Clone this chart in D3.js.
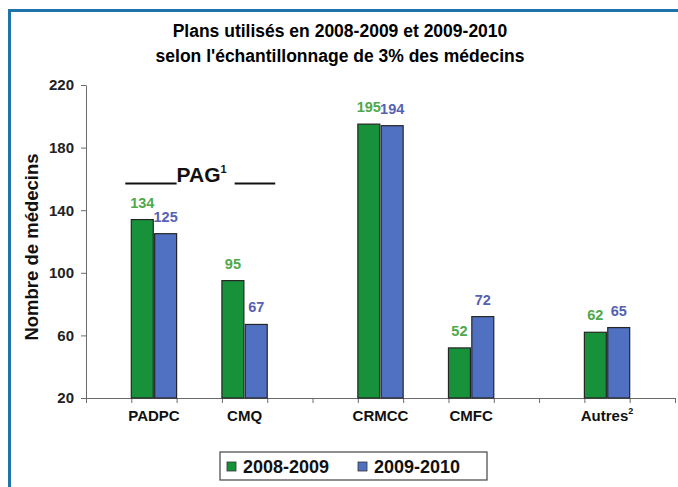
<!DOCTYPE html>
<html>
<head>
<meta charset="utf-8">
<script src="https://cdn.jsdelivr.net/npm/d3@7"></script>
<style>
  body { margin: 0; background: #fff; }
  svg { display: block; font-family: "Liberation Sans", Arial, sans-serif; font-weight: bold; }
</style>
</head>
<body>
<div id="chart"></div>
<script>
var categories = ["PADPC", "CMQ", "CRMCC", "CMFC", "Autres"];
var catSup = ["", "", "", "", "2"];
var series = ["2008-2009", "2009-2010"];
var values2008 = [134, 95, 195, 52, 62];
var values2009 = [125, 67, 194, 72, 65];
var yTicks = [20, 60, 100, 140, 180, 220];
// empty slots keep the gaps between the groups
var slotOrder = [null, "PADPC", null, "CMQ", null, null, "CRMCC", null, "CMFC", null, null, "Autres", null];

var W = 678, H = 487;
var barFill = ["#17923b", "#5070c2"];
var labelFill = ["#4fa84a", "#5561b3"];

var svg = d3.select("#chart").append("svg")
    .attr("width", W)
    .attr("height", H);

// blue frame
svg.append("path")
    .attr("d", "M9.5," + H + " L9.5,10.5 L" + W + ",10.5")
    .attr("fill", "none")
    .attr("stroke", "#1f73ab")
    .attr("stroke-width", 3);

// title
svg.append("text")
    .attr("x", 340).attr("y", 37)
    .attr("text-anchor", "middle")
    .style("font-size", "17.5px")
    .text("Plans utilisés en 2008-2009 et 2009-2010");
svg.append("text")
    .attr("x", 340).attr("y", 62)
    .attr("text-anchor", "middle")
    .style("font-size", "17.5px")
    .text("selon l'échantillonnage de 3% des médecins");

var y = d3.scaleLinear().domain([20, 220]).range([398, 85]);
var slotX = d3.scaleLinear().domain([0, slotOrder.length]).range([86, 675]);
var slotW = slotX(1) - slotX(0);
var xSub = d3.scaleBand().domain(series).range([0, slotW]).paddingInner(0.06);

function catX(c) { return slotX(slotOrder.indexOf(c)); }

// y axis
var yAxis = svg.append("g")
    .attr("transform", "translate(86,0)")
    .call(d3.axisLeft(y).tickValues(yTicks).tickSize(5).tickSizeOuter(0).tickPadding(7));
yAxis.select(".domain").attr("stroke", "#6b6b6b");
yAxis.selectAll(".tick line").attr("stroke", "#6b6b6b");
yAxis.selectAll("text")
    .style("font-size", "15px")
    .style("font-family", "Liberation Sans, Arial, sans-serif")
    .style("font-weight", "bold")
    .attr("fill", "#222");

// x axis (ticks at slot boundaries, no labels)
var xAxis = svg.append("g")
    .attr("transform", "translate(0,398)")
    .call(d3.axisBottom(slotX).tickValues(d3.range(0, slotOrder.length + 1)).tickFormat("").tickSize(5).tickSizeOuter(0));
xAxis.select(".domain").attr("stroke", "#6b6b6b");
xAxis.selectAll(".tick line").attr("stroke", "#6b6b6b");

// y title
svg.append("text")
    .attr("transform", "translate(38,247) rotate(-90)")
    .attr("text-anchor", "middle")
    .style("font-size", "18.5px")
    .attr("fill", "#111")
    .text("Nombre de médecins");

var data = categories.map(function(c, i) {
    return { cat: c, vals: [values2008[i], values2009[i]] };
});

var groups = svg.selectAll(".grp")
    .data(data)
    .enter().append("g")
    .attr("class", "grp")
    .attr("transform", function(d) { return "translate(" + catX(d.cat) + ",0)"; });

groups.selectAll("rect")
    .data(function(d) { return d.vals.map(function(v, k) { return { s: series[k], v: v, k: k }; }); })
    .enter().append("rect")
    .attr("x", function(d) { return xSub(d.s); })
    .attr("y", function(d) { return y(d.v); })
    .attr("width", xSub.bandwidth())
    .attr("height", function(d) { return y(20) - y(d.v); })
    .attr("fill", function(d) { return barFill[d.k]; })
    .attr("stroke", "#252525")
    .attr("stroke-width", 1.2);

groups.selectAll(".val")
    .data(function(d) { return d.vals.map(function(v, k) { return { s: series[k], v: v, k: k }; }); })
    .enter().append("text")
    .attr("class", "val")
    .attr("x", function(d) { return xSub(d.s) + xSub.bandwidth() / 2; })
    .attr("y", function(d) { return y(d.v) - 12; })
    .attr("text-anchor", "middle")
    .style("font-size", "14.5px")
    .attr("fill", function(d) { return labelFill[d.k]; })
    .text(function(d) { return d.v; });

// category labels
var catLab = groups.append("text")
    .attr("x", slotW / 2)
    .attr("y", 421)
    .attr("text-anchor", "middle")
    .style("font-size", "15px")
    .attr("fill", "#111");
catLab.append("tspan").text(function(d) { return d.cat; });
catLab.filter(function(d, i) { return catSup[i]; })
    .append("tspan")
    .attr("dy", -7)
    .style("font-size", "9px")
    .text(function(d) { return catSup[categories.indexOf(d.cat)]; });

// PAG bracket over PADPC and CMQ
var pagX0 = catX("PADPC"), pagX1 = catX("CMQ") + slotW;
var pagText = svg.append("text")
    .attr("x", pagX0 + slotW)
    .attr("y", 182)
    .style("font-size", "21px")
    .attr("fill", "#111");
pagText.append("tspan").text("PAG");
pagText.append("tspan").attr("dy", -9).style("font-size", "11px").text("1");
svg.append("line")
    .attr("x1", pagX0 - 6).attr("x2", pagX0 + slotW)
    .attr("y1", 183.5).attr("y2", 183.5)
    .attr("stroke", "#111").attr("stroke-width", 2);
svg.append("line")
    .attr("x1", pagX0 + slotW + 58).attr("x2", pagX1 + 8)
    .attr("y1", 183.5).attr("y2", 183.5)
    .attr("stroke", "#111").attr("stroke-width", 2);

// legend
var lg = svg.append("g").attr("transform", "translate(220,452)");
lg.append("rect")
    .attr("width", 267).attr("height", 28)
    .attr("fill", "#fff")
    .attr("stroke", "#444").attr("stroke-width", 1.2);
var lgX = d3.scalePoint().domain(series).range([7, 138]);
var items = lg.selectAll(".item").data(series).enter().append("g")
    .attr("transform", function(d) { return "translate(" + lgX(d) + ",0)"; });
items.append("rect")
    .attr("y", 10).attr("width", 9).attr("height", 9)
    .attr("fill", function(d, i) { return barFill[i]; })
    .attr("stroke", "#333").attr("stroke-width", 0.8);
items.append("text")
    .attr("x", 16).attr("y", 21)
    .style("font-size", "18px")
    .attr("fill", "#111")
    .text(function(d) { return d; });
</script>
</body>
</html>
